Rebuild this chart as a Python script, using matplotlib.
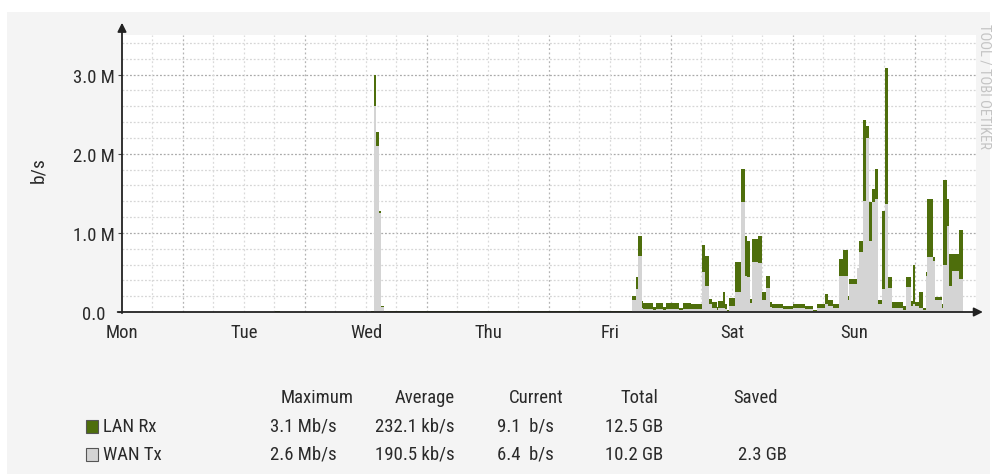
import numpy as np
import matplotlib
matplotlib.use('Agg')
import matplotlib.pyplot as plt
from matplotlib import font_manager
from matplotlib.patches import Rectangle

# データ (時刻は月曜0時からの時間, 値は Mb/s)
t_break = [0, 30.1, 31.1, 49.0, 49.5, 50.0, 50.6, 51.0, 51.5,
           100.3, 101.1, 101.5, 102.3, 102.5, 104.5, 105.0, 106.5, 107.0, 109.5, 110.3, 112.0,
           114.1, 114.7, 115.5, 116.1, 117.0, 117.3, 118.2, 118.6, 119.0, 119.4, 120.6, 121.8,
           122.6, 123.0, 123.5, 123.9, 125.1, 125.9, 126.7, 127.5, 127.9, 130.0, 132.0, 134.4,
           136.0, 136.7, 138.3, 138.9, 139.9, 141.1, 141.9, 142.8, 143.0, 144.6, 145.0, 145.8,
           146.4, 147.0, 147.5, 148.1, 148.7, 149.5, 150.1, 150.7, 151.5, 153.6, 154.2, 155.2,
           155.6, 156.0, 156.8, 157.6, 158.2, 158.4, 159.5, 159.9, 161.3, 161.5, 162.3, 162.7,
           163.3, 164.7, 165.4]
lan_rx = [0.0, 0.012, 0.0, 0.012, 3.0, 2.28, 1.28, 0.08, 0.012,
          0.2, 0.44, 0.96, 0.14, 0.12, 0.06, 0.12, 0.06, 0.11, 0.05, 0.12, 0.1,
          0.85, 0.71, 0.16, 0.13, 0.06, 0.14, 0.25, 0.1, 0.02, 0.18, 0.63, 1.81,
          0.96, 0.9, 0.16, 0.92, 0.96, 0.25, 0.46, 0.13, 0.1, 0.08, 0.1, 0.08,
          0.02, 0.1, 0.23, 0.15, 0.1, 0.67, 0.78, 0.2, 0.42, 0.55, 0.9, 2.42,
          2.35, 1.39, 1.56, 1.81, 0.15, 1.28, 3.08, 0.44, 0.13, 0.08, 0.44, 0.14,
          0.6, 0.13, 0.25, 0.05, 0.5, 1.43, 0.7, 0.19, 0.1, 1.67, 1.43, 0.73,
          0.73, 1.03, 0.0]
wan_tx = [0.0, 0.0, 0.0, 0.005, 2.6, 2.1, 1.25, 0.06, 0.005,
          0.15, 0.29, 0.71, 0.05, 0.04, 0.03, 0.04, 0.03, 0.04, 0.02, 0.04, 0.04,
          0.5, 0.33, 0.1, 0.05, 0.03, 0.05, 0.05, 0.04, 0.01, 0.08, 0.25, 1.39,
          0.45, 0.44, 0.12, 0.63, 0.62, 0.15, 0.3, 0.06, 0.05, 0.04, 0.05, 0.04,
          0.01, 0.05, 0.1, 0.07, 0.05, 0.46, 0.46, 0.15, 0.36, 0.55, 0.76, 1.4,
          2.2, 0.9, 1.39, 1.43, 0.1, 0.29, 1.37, 0.3, 0.05, 0.03, 0.32, 0.08,
          0.1, 0.08, 0.05, 0.03, 0.45, 0.7, 0.65, 0.15, 0.05, 0.59, 1.09, 0.33,
          0.52, 0.42, 0.0]

days = ['Mon', 'Tue', 'Wed', 'Thu', 'Fri', 'Sat', 'Sun']
y_ticks = [0, 1, 2, 3]
y_labels = ['0.0', '1.0 M', '2.0 M', '3.0 M']

headers = ['Maximum', 'Average', 'Current', 'Total', 'Saved']
series_names = ['LAN Rx', 'WAN Tx']
maximum = ['3.1 Mb/s', '2.6 Mb/s']
average = ['232.1 kb/s', '190.5 kb/s']
current = ['9.1  b/s', '6.4  b/s']
total = ['12.5 GB', '10.2 GB']
saved = ['', '2.3 GB']

GREEN = '#4e6e0c'
GRAY = '#d4d4d4'
TXT = '#2a2a2a'

# 細めのフォントがあれば使う
avail = {f.name for f in font_manager.fontManager.ttflist}
narrow = [n for n in ['Liberation Sans Narrow', 'Roboto Condensed'] if n in avail]
if narrow:
    plt.rcParams['font.family'] = [narrow[0], 'DejaVu Sans']
    fs = 13.5
else:
    plt.rcParams['font.family'] = ['DejaVu Sans']
    plt.rcParams['font.stretch'] = 'condensed'
    fs = 11

W, H = 995, 477
fig = plt.figure(figsize=(W / 100, H / 100), dpi=100)
fig.patch.set_facecolor('white')


def fx(x):
    return x / W


def fy(y):
    return 1 - y / H


fig.patches.append(Rectangle((fx(7), fy(475)), fx(983), (475 - 13) / H,
                             transform=fig.transFigure, facecolor='#f4f4f4',
                             edgecolor='none', zorder=-10))

ax = fig.add_axes([fx(122), fy(313), fx(976 - 122), (313 - 36) / H])
ax.set_facecolor('white')
ax.set_xlim(0, 168)
ax.set_ylim(0, 3.5)

# グリッド
for v in np.arange(0.2, 3.5, 0.2):
    major = abs(v - round(v)) < 1e-6
    ax.axhline(v, color='#aaaaaa' if major else '#d6d6d6', lw=0.9,
               linestyle=(0, (1.5, 1.5)), zorder=1)
for h in range(6, 168, 6):
    major = h % 24 == 12
    ax.axvline(h, color='#b4b4b4' if major else '#dadada', lw=0.9,
               linestyle=(0, (1.5, 2)), zorder=1)

t = np.array(t_break + [168])
rx = np.array(lan_rx + [lan_rx[-1]])
tx = np.array(wan_tx + [wan_tx[-1]])
ax.fill_between(t, rx, step='post', color=GREEN, lw=0, zorder=2)
ax.fill_between(t, tx, step='post', color=GRAY, lw=0, zorder=3)

for s in ax.spines.values():
    s.set_visible(False)

# 軸と矢印
ax.annotate('', xy=(0, 3.69), xytext=(0, -0.05),
            arrowprops=dict(arrowstyle='-|>', color='#222222', lw=1.3, mutation_scale=13),
            annotation_clip=False, zorder=5)
ax.annotate('', xy=(169.9, 0), xytext=(-1.4, 0),
            arrowprops=dict(arrowstyle='-|>', color='#222222', lw=1.3, mutation_scale=13),
            annotation_clip=False, zorder=5)

ax.set_yticks(y_ticks)
ax.set_yticklabels(y_labels)
ax.tick_params(axis='y', length=3, color='#444444', pad=17, labelsize=fs, labelcolor=TXT)
for lab in ax.get_yticklabels():
    lab.set_horizontalalignment('center')
ax.set_xticks([24 * i for i in range(7)])
ax.set_xticklabels(days)
ax.tick_params(axis='x', length=0, pad=8, labelsize=fs, labelcolor=TXT)

fig.text(fx(38), fy(170), 'b/s', rotation=90, ha='center', va='center',
         fontsize=fs + 0.5, color=TXT)
fig.text(fx(985), fy(24), 'TOOL / TOBI OETIKER', rotation=-90, ha='center', va='top',
         fontsize=fs - 3, color='#c4c4c4')

# 凡例テーブル
head_x = [317, 425, 536, 639, 756]
for hx, name in zip(head_x, headers):
    fig.text(fx(hx), fy(398), name, ha='center', va='center', fontsize=fs, color=TXT)

rows_y = [427, 455]
cols = [(270, maximum), (375, average), (497, current), (605, total), (738, saved)]
box_col = [GREEN, GRAY]
for i, ry in enumerate(rows_y):
    fig.patches.append(Rectangle((fx(86), fy(ry + 7)), fx(12), 13 / H,
                                 transform=fig.transFigure, facecolor=box_col[i],
                                 edgecolor='#555555', lw=0.8, zorder=3))
    fig.text(fx(103), fy(ry), series_names[i], ha='left', va='center',
             fontsize=fs, color=TXT)
    for cx, vals in cols:
        fig.text(fx(cx), fy(ry), vals[i], ha='left', va='center',
                 fontsize=fs, color=TXT)

fig.savefig('out.png', dpi=100)
